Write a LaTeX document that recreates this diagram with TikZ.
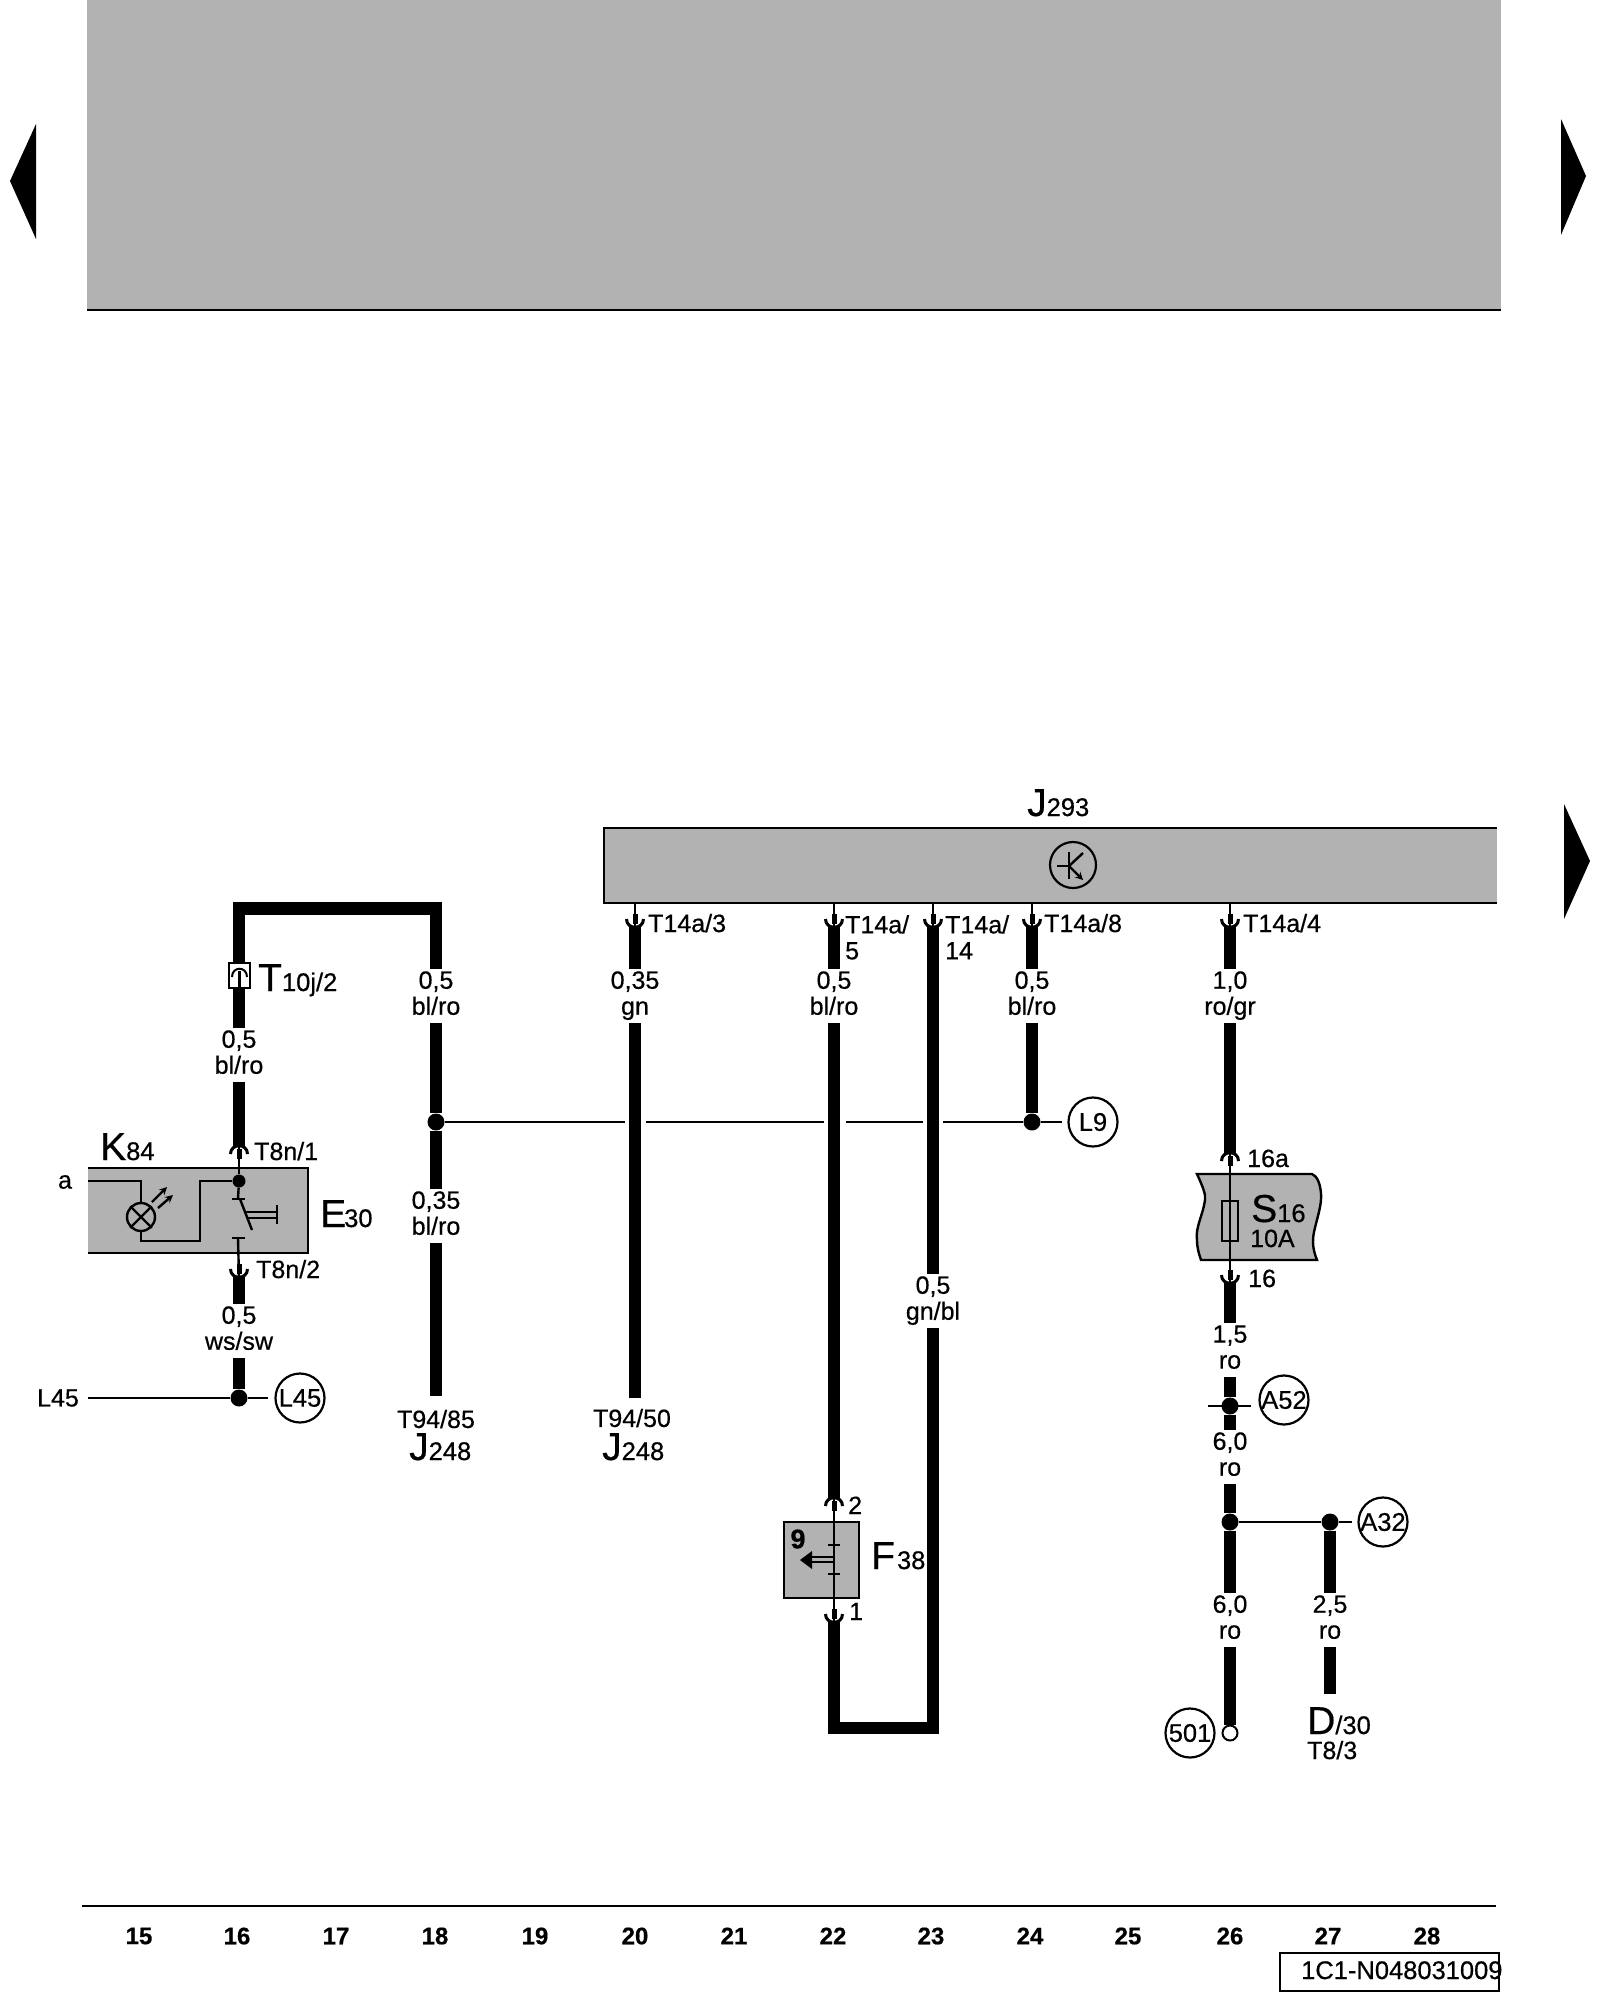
\documentclass[tikz,border=0pt]{standalone}
\usepackage{fontspec}
\setmainfont{Liberation Sans}[FakeBold=0.5]
\definecolor{panel}{HTML}{B2B2B2}
\newcommand{\bigsub}[2]{{\fontsize{39}{39}\selectfont #1}{\fontsize{25.5}{25.5}\selectfont #2}}
\tikzset{
  wire/.style={line width=12.6pt},
  thinw/.style={line width=2.4pt},
  framew/.style={line width=2.6pt},
  txt/.style={font=\fontsize{25}{26}\selectfont,inner sep=0pt,align=left},
  wirelab/.style={font=\fontsize{25}{26}\selectfont,inner sep=0pt,align=center,minimum height=54pt,
    execute at begin node={\rule{0pt}{27pt}},execute at end node={\rule[-6pt]{0pt}{1pt}}},
  dot/.style={circle,fill=black,inner sep=0pt,minimum size=#1},
  dot/.default=17pt,
  tag/.style={circle,draw,line width=2.2pt,inner sep=0pt,minimum size=49pt,font=\fontsize{25.5}{25.5}\selectfont},
  sockdown/.pic={
    \draw[line width=3pt] (-8.5,-8) .. controls (-8.5,3) and (8.5,3) .. (8.5,-8);
    \draw[line width=5pt] (0,-3) -- (0,-13);
  },
  sockup/.pic={
    \draw[line width=3pt] (-8.5,8) .. controls (-8.5,-3) and (8.5,-3) .. (8.5,8);
    \draw[line width=5pt] (0,3) -- (0,13);
  }
}
\begin{document}
\begin{tikzpicture}[x=1pt,y=-1pt]
\useasboundingbox (0,0) rectangle (1600,2000);
%head panel and page arrows
\fill[panel] (87,0) rectangle (1501,310);
\draw[line width=2pt] (87,310) -- (1501,310);
\fill (10,181) -- (36,124) -- (36,239) -- cycle;
\fill (1586,176) -- (1561,119) -- (1561,235) -- cycle;
\fill (1590,861) -- (1564,804) -- (1564,919) -- cycle;
%control unit
\fill[panel] (604,828) rectangle (1497,903);
\draw[framew] (1497,828) -- (604,828) -- (604,903) -- (1497,903);
\node[txt,anchor=base west] (nJ293) at (1027,816) {\bigsub{J}{293}};
\draw[line width=2.2pt] (1073,865) circle (23);
\draw[thinw] (1057,866) -- (1069,866);
\draw[thinw] (1069,852) -- (1069,879);
\draw[thinw] (1069,866) -- (1083,853);
\draw[thinw,->,>=stealth] (1069,866) -- (1083,880);
%wire 16
\coordinate (w16top) at (239,908.5);
\coordinate (w18top) at (436,908.5);
\coordinate (s16a) at (239,1146);
\coordinate (p16a) at (239,1181);
\node[wirelab] (l16a) at (239,1055) {0,5\\bl/ro};
\node[wirelab] (l18a) at (436,996) {0,5\\bl/ro};
\draw[wire] (l16a.north) -- (w16top) -- (w18top) -- (l18a.north);
\draw[wire] (l16a.south) -- (s16a);
\pic at (s16a) {sockup};
\draw[black,fill=white,line width=2pt] (229,963) rectangle (250,988);
\coordinate (s10j) at (239.5,969);
\draw[line width=2pt] (232,977) .. controls (232,966) and (247,966) .. (247,977);
\draw[line width=3.5pt] (239.5,971) -- (239.5,988);
\node[txt,anchor=base west] (nT10j) at (258,991) {\bigsub{T}{10j/2}};
\node[txt,anchor=base west] (nT8n1) at (254,1160) {T8n/1};
%switch and lamp panel
\fill[panel] (88,1168) rectangle (308,1253);
\draw[framew] (88,1168) -- (308,1168) -- (308,1253) -- (88,1253);
\node[txt,anchor=base west] (nK84) at (100,1160) {\bigsub{K}{84}};
\node[txt,anchor=base west] (nE30) at (320,1227) {\bigsub{E}{\kern-2pt 30}};
\node[txt] (na) at (65,1182) {a};
\node[dot=13pt] (d16a) at (239,1181) {};
\node[circle,draw,line width=2.4pt,inner sep=0pt,minimum size=28pt] (lamp) at (141,1217) {};
\draw[line width=2.4pt] (lamp.45) -- (lamp.225);
\draw[line width=2.4pt] (lamp.135) -- (lamp.315);
\coordinate (ain) at (88,1181);
\draw[thinw] (ain) -| (lamp.north);
\draw[thinw] (lamp.south) |- (200,1241) |- (d16a);
\draw[thinw,->,>=stealth] (152,1202) -- (167,1187);
\draw[thinw,->,>=stealth] (158,1208) -- (173,1195);
\coordinate (c1) at (238,1199);
\coordinate (c2) at (238,1238);
\coordinate (s16b) at (239,1277);
\draw[thinw] (s16a) -- (d16a);
\draw[thinw] (d16a) -- (c1);
\draw[thinw] (232,1199) -- (245,1199);
\draw[thinw] (232,1238) -- (245,1238);
\draw[thinw] (240,1199) -- (252,1230);
\draw[thinw] (246,1212) -- (277,1212);
\draw[thinw] (248,1218) -- (277,1218);
\draw[thinw] (277,1205) -- (277,1224);
\draw[thinw] (c2) -- (s16b);
\pic at (s16b) {sockdown};
\node[txt,anchor=base west] (nT8n2) at (256,1278) {T8n/2};
\node[wirelab] (l16b) at (239,1331) {0,5\\ws/sw};
\node[dot] (d16b) at (239,1398) {};
\draw[wire] (s16b) -- (l16b.north);
\draw[wire] (l16b.south) -- (d16b);
\coordinate (L45a) at (88,1398);
\coordinate (L45b) at (268,1398);
\draw[thinw] (L45a) -- (d16b) -- (L45b);
\node[txt] (nL45) at (58,1398) {L45};
\node[tag] (tL45) at (300,1398) {L45};
%wire 18
\node[wirelab] (l18b) at (436,1216) {0,35\\bl/ro};
\node[dot] (d18) at (436,1122) {};
\coordinate (e18) at (436,1396);
\draw[wire] (l18a.south) -- (d18);
\draw[wire] (d18) -- (l18b.north);
\draw[wire] (l18b.south) -- (e18);
\node[txt,align=center] (nT9485) at (436,1419) {T94/85};
\node[txt,anchor=base west] (nJ18) at (409,1460) {\bigsub{J}{248}};
%wire 20
\coordinate (t20) at (635,903);
\coordinate (s20) at (635,927);
\coordinate (e20) at (635,1398);
\node[wirelab] (l20) at (635,996) {0,35\\gn};
\draw[thinw] (t20) -- (s20);
\pic at (s20) {sockdown};
\draw[wire] (s20) -- (l20.north);
\draw[wire] (l20.south) -- (e20);
\node[txt,anchor=base west] (n20) at (648,932) {T14a/3};
\node[txt,align=center] (nT9450) at (632,1418) {T94/50};
\node[txt,anchor=base west] (nJ20) at (602,1460) {\bigsub{J}{248}};
%wire 22 and relay
\coordinate (t22) at (834,903);
\coordinate (s22) at (834,927);
\coordinate (s22b) at (834,1498);
\coordinate (s22c) at (834,1622);
\coordinate (b22) at (834,1728);
\coordinate (b23) at (933,1728);
\node[wirelab] (l22) at (834,996) {0,5\\bl/ro};
\node[wirelab] (l23) at (933,1301) {0,5\\gn/bl};
\draw[thinw] (t22) -- (s22);
\pic at (s22) {sockdown};
\draw[wire] (s22) -- (l22.north);
\draw[wire] (l22.south) -- (s22b);
\node[txt,anchor=north west] (n22) at (845,915) {T14a/\\5};
\fill[panel] (784,1522) rectangle (859,1598);
\draw[framew] (784,1522) rectangle (859,1598);
\pic at (s22b) {sockup};
\pic at (s22c) {sockdown};
\draw[thinw] (s22b) -- (s22c);
\draw[thinw] (828,1545) -- (840,1545);
\draw[thinw] (828,1574) -- (840,1574);
\draw[thinw] (834,1557) -- (812,1557);
\draw[thinw] (834,1562) -- (812,1562);
\fill (800,1560) -- (812,1551) -- (812,1569) -- cycle;
\node[txt] (n9) at (798,1539) {\fontsize{27}{27}\selectfont\bfseries 9};
\node[txt,anchor=base west] (n2) at (848,1514) {2};
\node[txt,anchor=base west] (n1) at (849,1620) {1};
\node[txt,anchor=base west] (nF38) at (871,1569) {\bigsub{F}{\kern2pt 38}};
\draw[wire] (s22c) -- (b22) -- (b23) -- (l23.south);
%wire 23
\coordinate (t23) at (933,903);
\coordinate (s23) at (933,927);
\draw[thinw] (t23) -- (s23);
\pic at (s23) {sockdown};
\draw[wire] (s23) -- (l23.north);
\node[txt,anchor=north west] (n23) at (945,915) {T14a/\\14};
%wire 24
\coordinate (t24) at (1032,903);
\coordinate (s24) at (1032,927);
\node[wirelab] (l24) at (1032,996) {0,5\\bl/ro};
\node[dot] (d24) at (1032,1122) {};
\draw[thinw] (t24) -- (s24);
\pic at (s24) {sockdown};
\draw[wire] (s24) -- (l24.north);
\draw[wire] (l24.south) -- (d24);
\node[txt,anchor=base west] (n24) at (1044,932) {T14a/8};
\node[tag] (tL9) at (1093,1122) {L9};
\coordinate (L9end) at (1062,1122);
\draw[thinw] (d24) -- (L9end);
%cross line with gaps
\coordinate (g20a) at (625,1122);
\coordinate (g20b) at (646,1122);
\coordinate (g22a) at (824,1122);
\coordinate (g22b) at (846,1122);
\coordinate (g23a) at (923,1122);
\coordinate (g23b) at (943,1122);
\draw[thinw] (d18) -- (g20a);
\draw[thinw] (g20b) -- (g22a);
\draw[thinw] (g22b) -- (g23a);
\draw[thinw] (g23b) -- (d24);
%wire 26 and fuse
\coordinate (t26) at (1230,903);
\coordinate (s26) at (1230,927);
\coordinate (s26b) at (1230,1153);
\coordinate (s26c) at (1230,1283);
\node[wirelab] (l26a) at (1230,996) {1,0\\ro/gr};
\draw[thinw] (t26) -- (s26);
\pic at (s26) {sockdown};
\draw[wire] (s26) -- (l26a.north);
\draw[wire] (l26a.south) -- (s26b);
\node[txt,anchor=base west] (n26) at (1243,932) {T14a/4};
\filldraw[fill=panel,line width=2.4pt] (1197,1174) .. controls (1203,1187) and (1206,1195) .. (1205,1200)
  .. controls (1203,1215) and (1195,1228) .. (1197,1240) .. controls (1197,1248) and (1199,1254) .. (1201,1260)
  -- (1317,1260) .. controls (1313,1250) and (1312,1242) .. (1314,1232)
  .. controls (1317,1218) and (1322,1205) .. (1321,1193) .. controls (1320,1183) and (1317,1176) .. (1312,1174) -- cycle;
\pic at (s26b) {sockup};
\pic at (s26c) {sockdown};
\draw[thinw] (s26b) -- (s26c);
\draw[line width=2pt] (1222,1201) rectangle (1238,1241);
\node[txt,anchor=base west] (nS16) at (1251,1222) {\bigsub{S}{16}};
\node[txt,anchor=base west] (n10A) at (1250,1247) {10A};
\node[txt,anchor=base west] (n16a) at (1247,1167) {16a};
\node[txt,anchor=base west] (n16) at (1248,1287) {16};
\node[wirelab] (l26b) at (1230,1350) {1,5\\ro};
\node[dot] (d26a) at (1230,1406) {};
\node[wirelab] (l26c) at (1230,1457) {6,0\\ro};
\node[dot] (d26b) at (1230,1522) {};
\node[wirelab] (l26d) at (1230,1620) {6,0\\ro};
\node[circle,draw,fill=white,line width=2pt,inner sep=0pt,minimum size=15pt] (o26) at (1230,1733) {};
\draw[wire] (s26c) -- (l26b.north);
\draw[wire] (l26b.south) -- (d26a);
\draw[wire] (d26a) -- (l26c.north);
\draw[wire] (l26c.south) -- (d26b);
\draw[wire] (d26b) -- (l26d.north);
\draw[wire] (l26d.south) -- (o26);
\coordinate (x52a) at (1208,1406);
\coordinate (x52b) at (1251,1406);
\draw[thinw] (x52a) -- (x52b);
\node[tag] (tA52) at (1284,1400) {A52};
\node[tag] (t501) at (1190,1733) {501};
%wire 27
\node[dot] (d27) at (1330,1522) {};
\node[wirelab] (l27) at (1330,1620) {2,5\\ro};
\coordinate (e27) at (1330,1694);
\coordinate (x32) at (1352,1522);
\draw[thinw] (d26b) -- (d27) -- (x32);
\draw[wire] (d27) -- (l27.north);
\draw[wire] (l27.south) -- (e27);
\node[tag] (tA32) at (1383,1522) {A32};
\node[txt,anchor=base west] (nD30) at (1307,1734) {\bigsub{D}{/30}};
\node[txt,anchor=base west] (nT83) at (1307,1759) {T8/3};
%number strip
\draw[line width=2pt] (82,1906) -- (1496,1906);
\node[txt,font=\fontsize{24}{24}\selectfont\bfseries] (c15) at (139,1936) {15};
\node[txt,font=\fontsize{24}{24}\selectfont\bfseries] (c16) at (237,1936) {16};
\node[txt,font=\fontsize{24}{24}\selectfont\bfseries] (c17) at (336,1936) {17};
\node[txt,font=\fontsize{24}{24}\selectfont\bfseries] (c18) at (435,1936) {18};
\node[txt,font=\fontsize{24}{24}\selectfont\bfseries] (c19) at (535,1936) {19};
\node[txt,font=\fontsize{24}{24}\selectfont\bfseries] (c20) at (635,1936) {20};
\node[txt,font=\fontsize{24}{24}\selectfont\bfseries] (c21) at (734,1936) {21};
\node[txt,font=\fontsize{24}{24}\selectfont\bfseries] (c22) at (833,1936) {22};
\node[txt,font=\fontsize{24}{24}\selectfont\bfseries] (c23) at (931,1936) {23};
\node[txt,font=\fontsize{24}{24}\selectfont\bfseries] (c24) at (1030,1936) {24};
\node[txt,font=\fontsize{24}{24}\selectfont\bfseries] (c25) at (1128,1936) {25};
\node[txt,font=\fontsize{24}{24}\selectfont\bfseries] (c26) at (1230,1936) {26};
\node[txt,font=\fontsize{24}{24}\selectfont\bfseries] (c27) at (1328,1936) {27};
\node[txt,font=\fontsize{24}{24}\selectfont\bfseries] (c28) at (1427,1936) {28};
\draw[framew] (1280,1953) rectangle (1499,1991);
\node[txt,font=\fontsize{25.5}{25.5}\selectfont,anchor=base west] (ncode) at (1301,1979) {1C1-N048031009};
\end{tikzpicture}
\end{document}
